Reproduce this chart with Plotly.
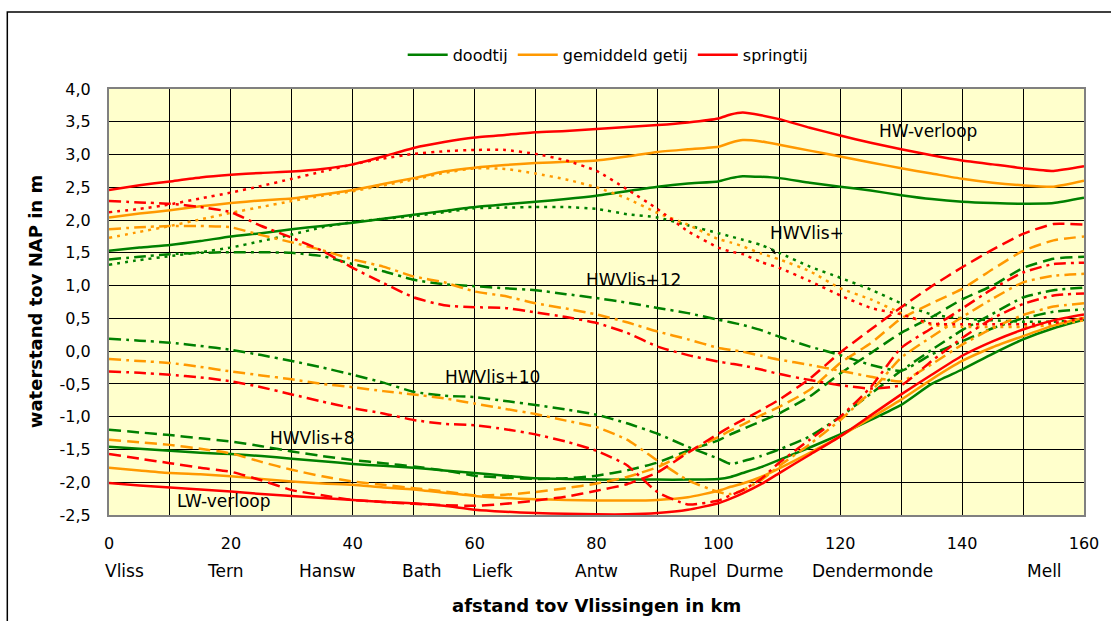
import plotly.graph_objects as go

# ---------------- data ----------------
KM = [0, 5, 10, 15, 20, 25, 30, 35, 40, 45, 50, 55, 60, 65, 70, 75, 80, 85, 90, 95,
      100, 102, 104, 107, 110, 115, 120, 125, 130, 135, 140, 145, 150, 155, 160]

# HW-verloop (solid)
HW_spring = [2.46, 2.53, 2.59, 2.65, 2.69, 2.72, 2.74, 2.78, 2.85, 2.97, 3.10, 3.19, 3.26, 3.30, 3.34, 3.36, 3.39, 3.42, 3.45, 3.49,
             3.55, 3.61, 3.64, 3.60, 3.54, 3.41, 3.29, 3.18, 3.08, 2.99, 2.91, 2.85, 2.79, 2.75, 2.82]
HW_gem = [2.04, 2.10, 2.15, 2.21, 2.26, 2.30, 2.33, 2.39, 2.46, 2.55, 2.64, 2.74, 2.80, 2.84, 2.87, 2.89, 2.91, 2.97, 3.04, 3.08,
          3.12, 3.18, 3.22, 3.20, 3.15, 3.06, 2.97, 2.88, 2.79, 2.71, 2.63, 2.57, 2.53, 2.51, 2.60]
HW_dood = [1.53, 1.58, 1.62, 1.68, 1.75, 1.80, 1.86, 1.91, 1.96, 2.02, 2.08, 2.14, 2.20, 2.24, 2.28, 2.32, 2.37, 2.44, 2.51, 2.56,
           2.59, 2.64, 2.67, 2.66, 2.64, 2.57, 2.51, 2.45, 2.38, 2.32, 2.28, 2.26, 2.25, 2.26, 2.34]

# LW-verloop (solid)
LW_spring = [-2.01, -2.05, -2.08, -2.11, -2.14, -2.18, -2.21, -2.24, -2.27, -2.30, -2.32, -2.36, -2.42, -2.45, -2.47, -2.48, -2.49, -2.49, -2.47, -2.42,
             -2.32, -2.25, -2.17, -2.03, -1.86, -1.58, -1.30, -0.98, -0.66, -0.36, -0.07, 0.15, 0.33, 0.47, 0.56]
LW_gem = [-1.78, -1.82, -1.86, -1.88, -1.91, -1.95, -1.99, -2.02, -2.04, -2.08, -2.11, -2.16, -2.21, -2.24, -2.26, -2.27, -2.28, -2.28, -2.27, -2.23,
          -2.13, -2.07, -2.02, -1.92, -1.79, -1.55, -1.30, -1.02, -0.74, -0.43, -0.15, 0.06, 0.23, 0.39, 0.51]
LW_dood = [-1.46, -1.49, -1.52, -1.55, -1.57, -1.60, -1.64, -1.68, -1.72, -1.75, -1.78, -1.82, -1.86, -1.90, -1.94, -1.95, -1.96, -1.96, -1.96, -1.96,
           -1.95, -1.92, -1.86, -1.77, -1.66, -1.47, -1.27, -1.05, -0.82, -0.50, -0.28, -0.04, 0.18, 0.35, 0.48]

# HWVlis+ (dotted)
P0_spring = [2.12, 2.17, 2.24, 2.33, 2.42, 2.52, 2.63, 2.74, 2.85, 2.94, 3.01, 3.05, 3.07, 3.07, 3.01, 2.91, 2.75, 2.47, 2.17, 1.83,
             1.58, 1.52, 1.48, 1.36, 1.27, 1.07, 0.85, 0.66, 0.56, 0.42, 0.41, 0.41, 0.41, 0.43, 0.50]
P0_gem = [1.73, 1.82, 1.91, 2.01, 2.11, 2.20, 2.29, 2.37, 2.44, 2.53, 2.62, 2.72, 2.79, 2.78, 2.71, 2.62, 2.50, 2.33, 2.11, 1.93,
          1.71, 1.66, 1.60, 1.49, 1.40, 1.22, 0.96, 0.79, 0.58, 0.40, 0.37, 0.37, 0.37, 0.40, 0.47]
P0_dood = [1.32, 1.39, 1.45, 1.51, 1.58, 1.68, 1.78, 1.89, 1.97, 2.02, 2.06, 2.12, 2.18, 2.19, 2.20, 2.20, 2.17, 2.09, 2.04, 1.92,
           1.80, 1.75, 1.70, 1.62, 1.50, 1.29, 1.12, 0.94, 0.73, 0.56, 0.50, 0.47, 0.45, 0.45, 0.47]

# HWVlis+12 (dash-dot)
P12_spring = [2.29, 2.27, 2.25, 2.20, 2.12, 1.91, 1.73, 1.53, 1.27, 1.04, 0.82, 0.70, 0.67, 0.66, 0.59, 0.52, 0.43, 0.28, 0.07, -0.06,
              -0.16, -0.19, -0.22, -0.28, -0.35, -0.44, -0.52, -0.57, -0.52, -0.15, 0.20, 0.50, 0.72, 0.85, 0.88]
P12_gem = [1.86, 1.89, 1.91, 1.91, 1.89, 1.77, 1.66, 1.54, 1.40, 1.29, 1.14, 1.05, 0.91, 0.84, 0.73, 0.65, 0.56, 0.44, 0.30, 0.18,
           0.05, 0.02, -0.01, -0.07, -0.13, -0.21, -0.30, -0.39, -0.46, -0.20, 0.10, 0.35, 0.55, 0.68, 0.73]
P12_dood = [1.40, 1.44, 1.48, 1.50, 1.51, 1.51, 1.50, 1.45, 1.33, 1.22, 1.09, 1.02, 0.99, 0.96, 0.93, 0.87, 0.81, 0.74, 0.66, 0.58,
            0.48, 0.44, 0.40, 0.32, 0.22, 0.07, -0.06, -0.21, -0.30, -0.05, 0.15, 0.35, 0.50, 0.60, 0.64]

# HWVlis+10 (dash-dot)
P10_spring = [-0.31, -0.33, -0.36, -0.40, -0.46, -0.55, -0.66, -0.77, -0.87, -0.95, -1.05, -1.11, -1.13, -1.19, -1.27, -1.38, -1.52, -1.74, -2.15, -2.34,
              -2.28, -2.20, -2.12, -1.95, -1.70, -1.35, -1.00, -0.55, 0.05, 0.35, 0.65, 0.95, 1.20, 1.33, 1.35]
P10_gem = [-0.12, -0.15, -0.18, -0.24, -0.31, -0.37, -0.43, -0.50, -0.55, -0.61, -0.66, -0.72, -0.80, -0.88, -0.96, -1.06, -1.16, -1.35, -1.67, -1.97,
           -2.15, -2.18, -2.12, -1.97, -1.75, -1.42, -1.05, -0.62, -0.10, 0.22, 0.52, 0.80, 1.05, 1.15, 1.18]
P10_dood = [0.19, 0.16, 0.13, 0.08, 0.02, -0.06, -0.15, -0.25, -0.36, -0.48, -0.62, -0.68, -0.70, -0.76, -0.82, -0.89, -0.97, -1.10, -1.26, -1.46,
            -1.64, -1.72, -1.68, -1.60, -1.50, -1.30, -1.00, -0.65, -0.30, 0.02, 0.32, 0.57, 0.82, 0.93, 0.97]

# HWVlis+8 (dashed)
P8_spring = [-1.57, -1.64, -1.71, -1.78, -1.84, -1.97, -2.12, -2.20, -2.27, -2.30, -2.33, -2.35, -2.36, -2.33, -2.28, -2.22, -2.13, -2.03, -1.85, -1.55,
             -1.26, -1.15, -1.05, -0.90, -0.74, -0.42, -0.02, 0.33, 0.67, 0.99, 1.28, 1.55, 1.79, 1.94, 1.93]
P8_gem = [-1.35, -1.39, -1.43, -1.49, -1.56, -1.69, -1.81, -1.91, -1.99, -2.04, -2.09, -2.14, -2.20, -2.19, -2.15, -2.09, -2.02, -1.92, -1.77, -1.54,
          -1.31, -1.21, -1.12, -0.98, -0.85, -0.59, -0.18, 0.12, 0.50, 0.73, 0.95, 1.25, 1.53, 1.69, 1.75]
P8_dood = [-1.20, -1.24, -1.28, -1.33, -1.38, -1.45, -1.53, -1.60, -1.66, -1.71, -1.76, -1.82, -1.90, -1.93, -1.95, -1.94, -1.90, -1.82, -1.70, -1.52,
           -1.36, -1.27, -1.19, -1.07, -0.95, -0.69, -0.34, -0.03, 0.28, 0.52, 0.79, 1.00, 1.27, 1.41, 1.44]

# axis labels
X_TICKS = [0, 20, 40, 60, 80, 100, 120, 140, 160]
Y_TICKS = [-2.5, -2.0, -1.5, -1.0, -0.5, 0.0, 0.5, 1.0, 1.5, 2.0, 2.5, 3.0, 3.5, 4.0]
Y_TICKTEXT = ["-2,5", "-2,0", "-1,5", "-1,0", "-0,5", "0,0", "0,5", "1,0", "1,5", "2,0", "2,5", "3,0", "3,5", "4,0"]
PLACES = ["Vliss", "Tern", "Hansw", "Bath", "Liefk", "Antw", "Rupel", "Durme", "Dendermonde", "Mell"]
PLACE_KM = [2.5, 19, 35.8, 51.3, 63, 80, 95.8, 106, 125.3, 153.5]

LABELS = ["HW-verloop", "HWVlis+", "HWVlis+12", "HWVlis+10", "HWVlis+8", "LW-verloop"]
LABEL_KM = [134.4, 114.6, 86.1, 63.0, 33.4, 18.8]
LABEL_Y = [3.36, 1.80, 1.08, -0.40, -1.32, -2.28]

# ---------------- figure ----------------
GREEN, ORANGE, RED = "#008000", "#FF9900", "#FF0000"
FONT = "DejaVu Sans"

fig = go.Figure()

groups = [
    ("doodtij", GREEN, [HW_dood, P0_dood, P12_dood, P10_dood, P8_dood, LW_dood]),
    ("gemiddeld getij", ORANGE, [HW_gem, P0_gem, P12_gem, P10_gem, P8_gem, LW_gem]),
    ("springtij", RED, [HW_spring, P0_spring, P12_spring, P10_spring, P8_spring, LW_spring]),
]
dashes = ["solid", "3px,5px", "12px,5px,3px,5px", "12px,5px,3px,5px", "12px,6px", "solid"]

for name, color, series in groups:
    for i, (ys, dash) in enumerate(zip(series, dashes)):
        fig.add_trace(go.Scatter(
            x=KM, y=ys, mode="lines", name=name, legendgroup=name,
            showlegend=(i == 0),
            line=dict(color=color, width=2.5, dash=dash, shape="spline", smoothing=0.5),
            hoverinfo="skip",
        ))

annotations = []
for txt, xk, yv in zip(LABELS, LABEL_KM, LABEL_Y):
    annotations.append(dict(x=xk, y=yv, xref="x", yref="y", text=txt, showarrow=False,
                            font=dict(family=FONT, size=17, color="black")))
# small arrow under "HWVlis+"
annotations.append(dict(x=109.4, y=1.48, xref="x", yref="y", text="", showarrow=True,
                        arrowhead=2, arrowsize=0.8, arrowwidth=1, arrowcolor="black", ax=-7, ay=-8))
for txt, xk in zip(PLACES, PLACE_KM):
    annotations.append(dict(x=xk, y=-0.131, xref="x", yref="paper", text=txt, showarrow=False,
                            yanchor="middle", font=dict(family=FONT, size=17, color="black")))
annotations.append(dict(x=0.5, y=-0.212, xref="paper", yref="paper", text="<b>afstand tov Vlissingen in km</b>",
                        showarrow=False, yanchor="middle", font=dict(family=FONT, size=18, color="black")))
annotations.append(dict(x=-0.0757, y=0.5, xref="paper", yref="paper", text="<b>waterstand tov NAP in m</b>",
                        showarrow=False, textangle=-90, xanchor="center", yanchor="middle",
                        font=dict(family=FONT, size=18, color="black")))

fig.update_layout(
    width=1111, height=621,
    margin=dict(l=109, r=24, t=89, b=106),
    paper_bgcolor="white", plot_bgcolor="#FFFFCC",
    font=dict(family=FONT, size=16, color="black"),
    showlegend=True,
    legend=dict(orientation="h", x=0.512, xanchor="center", y=1.08, yanchor="middle",
                font=dict(family=FONT, size=16), bgcolor="rgba(0,0,0,0)", itemwidth=40),
    annotations=annotations,
    shapes=[dict(type="rect", xref="paper", yref="paper", x0=-0.1043, x1=1.2, y0=-0.6, y1=1.1808,
                 line=dict(color="black", width=1.5), fillcolor="rgba(0,0,0,0)", layer="below")],
    xaxis=dict(range=[0, 160], tickvals=X_TICKS, ticks="", ticklabelstandoff=13,
               showgrid=True, gridcolor="#000000", gridwidth=1,
               minor=dict(dtick=10, tick0=0, showgrid=True, gridcolor="#000000", gridwidth=1),
               showline=True, mirror=True, linecolor="#808080", linewidth=2, zeroline=False,
               tickfont=dict(family=FONT, size=16)),
    yaxis=dict(range=[-2.5, 4.0], tickvals=Y_TICKS, ticktext=Y_TICKTEXT, ticks="", ticklabelstandoff=13,
               showgrid=True, gridcolor="#000000", gridwidth=1,
               showline=True, mirror=True, linecolor="#808080", linewidth=2, zeroline=False,
               tickfont=dict(family=FONT, size=16)),
)

fig.write_html("out.html", config={"displayModeBar": False},
               post_script="document.body.style.margin='0px';document.body.style.overflow='hidden';")
